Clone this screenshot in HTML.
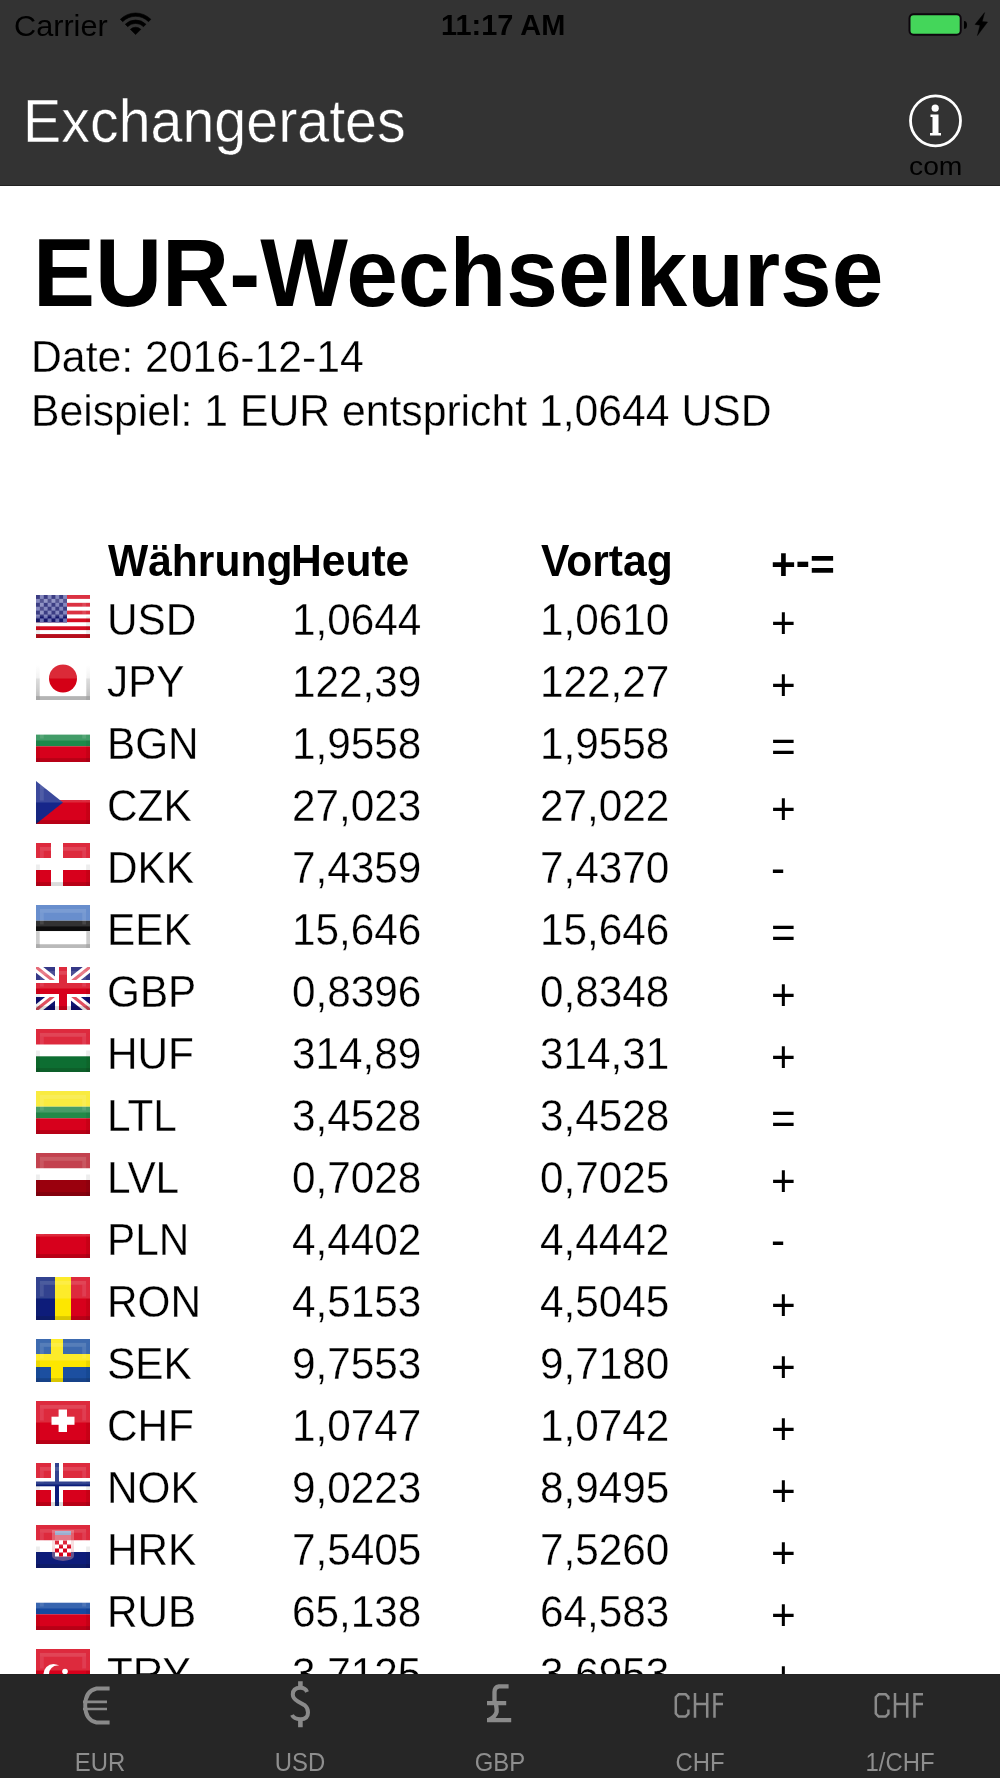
<!DOCTYPE html>
<html><head><meta charset="utf-8">
<style>
*{margin:0;padding:0;box-sizing:border-box}
html,body{width:1000px;height:1778px;overflow:hidden;background:#fff;font-family:"Liberation Sans",sans-serif}
#page{position:relative;width:1000px;height:1778px;overflow:hidden;background:#fff}
.abs{position:absolute;white-space:nowrap;line-height:1}
#nav{position:absolute;left:0;top:0;width:1000px;height:186px;background:#333333;border-bottom:1px solid #222222}
#sb-carrier{position:absolute;left:14px;top:10.7px;font-size:30px;color:#000;line-height:1;transform:scaleX(1.022);transform-origin:0 0}
#sb-time{position:absolute;left:441.3px;top:10px;font-size:30px;font-weight:bold;color:#000;line-height:1;transform:scaleX(0.964);transform-origin:0 0}
#navtitle{position:absolute;left:23.1px;top:90.6px;font-size:61px;color:#fff;-webkit-text-stroke:0.5px #333;line-height:1;transform:scaleX(0.9405);transform-origin:0 0}
#com{position:absolute;left:908.7px;top:153px;font-size:26.5px;color:#000;line-height:1;transform:scaleX(1.067);transform-origin:0 0}
#title{position:absolute;left:33px;top:224px;font-size:97px;font-weight:bold;color:#000;line-height:1;transform:scaleX(0.958);transform-origin:0 0}
#date{position:absolute;left:31.2px;top:334px;font-size:45px;color:#000;-webkit-text-stroke:0.3px #fff;line-height:1;transform:scaleX(0.95);transform-origin:0 0}
#beisp{position:absolute;left:30.8px;top:388px;font-size:45px;color:#000;-webkit-text-stroke:0.3px #fff;line-height:1;transform:scaleX(0.949);transform-origin:0 0}
.h{position:absolute;top:538px;font-size:45px;font-weight:bold;color:#000;line-height:1;white-space:nowrap;transform:scaleX(0.946);transform-origin:0 0}
.r{position:absolute;font-size:45px;color:#000;line-height:1;white-space:nowrap;-webkit-text-stroke:0.3px #fff;transform:scaleX(0.94);transform-origin:0 0}
.s{-webkit-text-stroke:0}
.flag{position:absolute}
#content{position:absolute;left:0;top:0;width:1000px;height:1674px;overflow:hidden}
#tab{position:absolute;left:0;top:1674px;width:1000px;height:104px;background:#262626;border-top:1px solid #232323}
.tl{position:absolute;top:1750px;font-size:25px;color:#8e8e8e;line-height:1;white-space:nowrap;text-align:center;width:200px;transform:scaleX(0.955);transform-origin:50% 0}
.ti{position:absolute}
</style></head>
<body><div id="page">
<div id="content">
<div id="title">EUR-Wechselkurse</div>
<div id="date">Date: 2016-12-14</div>
<div id="beisp">Beispiel: 1 EUR entspricht 1,0644 USD</div>
<div class="h" id="h1" style="left:107.6px">Währung</div>
<div class="h" id="h2" style="left:291.2px">Heute</div>
<div class="h" id="h3" style="left:540.5px">Vortag</div>
<div class="h" id="h4" style="left:771.1px"><span style="position:relative;top:3.8px">+</span>-<span style="position:relative;top:4px">=</span></div>
<svg width="0" height="0" style="position:absolute"><defs>
<linearGradient id="gl" x1="0" y1="0" x2="0" y2="1">
<stop offset="0" stop-color="#fff" stop-opacity="0.22"/>
<stop offset="0.5" stop-color="#fff" stop-opacity="0.04"/>
<stop offset="0.51" stop-color="#fff" stop-opacity="0"/>
<stop offset="0.9" stop-color="#000" stop-opacity="0"/>
<stop offset="1" stop-color="#000" stop-opacity="0.1"/>
</linearGradient>
<filter id="fb" x="-10%" y="-10%" width="120%" height="120%"><feGaussianBlur stdDeviation="0.75"/></filter>
<linearGradient id="gv" x1="0" y1="0" x2="0" y2="1">
<stop offset="0" stop-color="#ddd" stop-opacity="0"/>
<stop offset="1" stop-color="#c8c8c8" stop-opacity="1"/>
</linearGradient>
</defs></svg>
<svg class="flag" style="left:35.5px;top:595px" width="54" height="43" viewBox="0 0 54 43"><g filter="url(#fb)"><rect x="0" y="0.0" width="54" height="4.109090909090909" fill="#d50a20"/><rect x="0" y="3.909090909090909" width="54" height="4.109090909090909" fill="#ffffff"/><rect x="0" y="7.818181818181818" width="54" height="4.109090909090909" fill="#d50a20"/><rect x="0" y="11.727272727272727" width="54" height="4.109090909090909" fill="#ffffff"/><rect x="0" y="15.636363636363637" width="54" height="4.109090909090909" fill="#d50a20"/><rect x="0" y="19.545454545454547" width="54" height="4.109090909090909" fill="#ffffff"/><rect x="0" y="23.454545454545453" width="54" height="4.109090909090909" fill="#d50a20"/><rect x="0" y="27.363636363636363" width="54" height="4.109090909090909" fill="#ffffff"/><rect x="0" y="31.272727272727273" width="54" height="4.109090909090909" fill="#d50a20"/><rect x="0" y="35.18181818181818" width="54" height="4.109090909090909" fill="#ffffff"/><rect x="0" y="39.09090909090909" width="54" height="4.109090909090909" fill="#d50a20"/><rect x="0" y="0" width="31" height="27.363636363636363" fill="#16186c"/><rect x="3.875" y="0.0" width="3.875" height="3.909090909090909" fill="#6e72b2"/><rect x="11.625" y="0.0" width="3.875" height="3.909090909090909" fill="#6e72b2"/><rect x="19.375" y="0.0" width="3.875" height="3.909090909090909" fill="#6e72b2"/><rect x="27.125" y="0.0" width="3.875" height="3.909090909090909" fill="#6e72b2"/><rect x="0.0" y="3.909090909090909" width="3.875" height="3.909090909090909" fill="#6e72b2"/><rect x="7.75" y="3.909090909090909" width="3.875" height="3.909090909090909" fill="#6e72b2"/><rect x="15.5" y="3.909090909090909" width="3.875" height="3.909090909090909" fill="#6e72b2"/><rect x="23.25" y="3.909090909090909" width="3.875" height="3.909090909090909" fill="#6e72b2"/><rect x="3.875" y="7.818181818181818" width="3.875" height="3.909090909090909" fill="#6e72b2"/><rect x="11.625" y="7.818181818181818" width="3.875" height="3.909090909090909" fill="#6e72b2"/><rect x="19.375" y="7.818181818181818" width="3.875" height="3.909090909090909" fill="#6e72b2"/><rect x="27.125" y="7.818181818181818" width="3.875" height="3.909090909090909" fill="#6e72b2"/><rect x="0.0" y="11.727272727272727" width="3.875" height="3.909090909090909" fill="#6e72b2"/><rect x="7.75" y="11.727272727272727" width="3.875" height="3.909090909090909" fill="#6e72b2"/><rect x="15.5" y="11.727272727272727" width="3.875" height="3.909090909090909" fill="#6e72b2"/><rect x="23.25" y="11.727272727272727" width="3.875" height="3.909090909090909" fill="#6e72b2"/><rect x="3.875" y="15.636363636363637" width="3.875" height="3.909090909090909" fill="#6e72b2"/><rect x="11.625" y="15.636363636363637" width="3.875" height="3.909090909090909" fill="#6e72b2"/><rect x="19.375" y="15.636363636363637" width="3.875" height="3.909090909090909" fill="#6e72b2"/><rect x="27.125" y="15.636363636363637" width="3.875" height="3.909090909090909" fill="#6e72b2"/><rect x="0.0" y="19.545454545454547" width="3.875" height="3.909090909090909" fill="#6e72b2"/><rect x="7.75" y="19.545454545454547" width="3.875" height="3.909090909090909" fill="#6e72b2"/><rect x="15.5" y="19.545454545454547" width="3.875" height="3.909090909090909" fill="#6e72b2"/><rect x="23.25" y="19.545454545454547" width="3.875" height="3.909090909090909" fill="#6e72b2"/><rect x="3.875" y="23.454545454545453" width="3.875" height="3.909090909090909" fill="#6e72b2"/><rect x="11.625" y="23.454545454545453" width="3.875" height="3.909090909090909" fill="#6e72b2"/><rect x="19.375" y="23.454545454545453" width="3.875" height="3.909090909090909" fill="#6e72b2"/><rect x="27.125" y="23.454545454545453" width="3.875" height="3.909090909090909" fill="#6e72b2"/><rect x="0" y="0" width="54" height="21.5" fill="#fff" fill-opacity="0.16"/><rect x="3.9" y="3.9" width="46.2" height="3.9" fill="#fff" fill-opacity="0.13"/><rect x="3.9" y="7.8" width="3.9" height="11.7" fill="#fff" fill-opacity="0.1"/><rect x="46.2" y="7.8" width="3.9" height="11.7" fill="#fff" fill-opacity="0.1"/><rect x="0" y="21.5" width="3.9" height="21.5" fill="#000" fill-opacity="0.07"/><rect x="50.1" y="21.5" width="3.9" height="21.5" fill="#000" fill-opacity="0.07"/><rect x="0" y="39.1" width="54" height="3.9" fill="#000" fill-opacity="0.14"/></g></svg>
<div class="r" id="r0c1" style="left:106.5px;top:596.71px">USD</div>
<div class="r" id="r0c2" style="left:291.8px;top:596.71px">1,0644</div>
<div class="r" id="r0c3" style="left:540.2px;top:596.71px">1,0610</div>
<div class="r s" id="r0c4" style="left:771.0px;top:599.71px">+</div>
<svg class="flag" style="left:35.5px;top:657px" width="54" height="43" viewBox="0 0 54 43"><g filter="url(#fb)"><rect x="0" y="0" width="54" height="43" fill="#ffffff"/><rect x="0" y="8" width="3.6" height="35" fill="url(#gv)"/><rect x="50.4" y="8" width="3.6" height="35" fill="url(#gv)"/><rect x="0" y="39.2" width="54" height="3.8" fill="#d2d2d2"/><circle cx="27" cy="21.5" r="14" fill="#d40014"/><rect x="0" y="0" width="54" height="21.5" fill="#fff" fill-opacity="0.16"/><rect x="3.9" y="3.9" width="46.2" height="3.9" fill="#fff" fill-opacity="0.13"/><rect x="3.9" y="7.8" width="3.9" height="11.7" fill="#fff" fill-opacity="0.1"/><rect x="46.2" y="7.8" width="3.9" height="11.7" fill="#fff" fill-opacity="0.1"/><rect x="0" y="21.5" width="3.9" height="21.5" fill="#000" fill-opacity="0.07"/><rect x="50.1" y="21.5" width="3.9" height="21.5" fill="#000" fill-opacity="0.07"/><rect x="0" y="39.1" width="54" height="3.9" fill="#000" fill-opacity="0.14"/></g></svg>
<div class="r" id="r1c1" style="left:106.5px;top:658.71px">JPY</div>
<div class="r" id="r1c2" style="left:291.8px;top:658.71px">122,39</div>
<div class="r" id="r1c3" style="left:540.2px;top:658.71px">122,27</div>
<div class="r s" id="r1c4" style="left:771.0px;top:661.71px">+</div>
<svg class="flag" style="left:35.5px;top:719px" width="54" height="43" viewBox="0 0 54 43"><g filter="url(#fb)"><rect x="0" y="15.6" width="54" height="11.7" fill="#1f8a4c"/><rect x="0" y="27.3" width="54" height="15.7" fill="#d7001a"/><rect x="0" y="0" width="54" height="21.5" fill="#fff" fill-opacity="0.16"/><rect x="3.9" y="3.9" width="46.2" height="3.9" fill="#fff" fill-opacity="0.13"/><rect x="3.9" y="7.8" width="3.9" height="11.7" fill="#fff" fill-opacity="0.1"/><rect x="46.2" y="7.8" width="3.9" height="11.7" fill="#fff" fill-opacity="0.1"/><rect x="0" y="21.5" width="3.9" height="21.5" fill="#000" fill-opacity="0.07"/><rect x="50.1" y="21.5" width="3.9" height="21.5" fill="#000" fill-opacity="0.07"/><rect x="0" y="39.1" width="54" height="3.9" fill="#000" fill-opacity="0.14"/></g></svg>
<div class="r" id="r2c1" style="left:106.5px;top:720.71px">BGN</div>
<div class="r" id="r2c2" style="left:291.8px;top:720.71px">1,9558</div>
<div class="r" id="r2c3" style="left:540.2px;top:720.71px">1,9558</div>
<div class="r s" id="r2c4" style="left:771.0px;top:723.21px">=</div>
<svg class="flag" style="left:35.5px;top:781px" width="54" height="43" viewBox="0 0 54 43"><g filter="url(#fb)"><rect x="0" y="19" width="54" height="24" fill="#d7001a"/><polygon points="0,0 27,21.5 0,43" fill="#16288a"/><rect x="0" y="0" width="54" height="21.5" fill="#fff" fill-opacity="0.16"/><rect x="3.9" y="3.9" width="46.2" height="3.9" fill="#fff" fill-opacity="0.13"/><rect x="3.9" y="7.8" width="3.9" height="11.7" fill="#fff" fill-opacity="0.1"/><rect x="46.2" y="7.8" width="3.9" height="11.7" fill="#fff" fill-opacity="0.1"/><rect x="0" y="21.5" width="3.9" height="21.5" fill="#000" fill-opacity="0.07"/><rect x="50.1" y="21.5" width="3.9" height="21.5" fill="#000" fill-opacity="0.07"/><rect x="0" y="39.1" width="54" height="3.9" fill="#000" fill-opacity="0.14"/></g></svg>
<div class="r" id="r3c1" style="left:106.5px;top:782.71px">CZK</div>
<div class="r" id="r3c2" style="left:291.8px;top:782.71px">27,023</div>
<div class="r" id="r3c3" style="left:540.2px;top:782.71px">27,022</div>
<div class="r s" id="r3c4" style="left:771.0px;top:785.71px">+</div>
<svg class="flag" style="left:35.5px;top:843px" width="54" height="43" viewBox="0 0 54 43"><g filter="url(#fb)"><rect x="0" y="0" width="54" height="43" fill="#d7001a"/><rect x="15" y="0" width="12" height="43" fill="#ffffff"/><rect x="0" y="15" width="54" height="12" fill="#ffffff"/><rect x="0" y="0" width="54" height="21.5" fill="#fff" fill-opacity="0.16"/><rect x="3.9" y="3.9" width="46.2" height="3.9" fill="#fff" fill-opacity="0.13"/><rect x="3.9" y="7.8" width="3.9" height="11.7" fill="#fff" fill-opacity="0.1"/><rect x="46.2" y="7.8" width="3.9" height="11.7" fill="#fff" fill-opacity="0.1"/><rect x="0" y="21.5" width="3.9" height="21.5" fill="#000" fill-opacity="0.07"/><rect x="50.1" y="21.5" width="3.9" height="21.5" fill="#000" fill-opacity="0.07"/><rect x="0" y="39.1" width="54" height="3.9" fill="#000" fill-opacity="0.14"/></g></svg>
<div class="r" id="r4c1" style="left:106.5px;top:844.71px">DKK</div>
<div class="r" id="r4c2" style="left:291.8px;top:844.71px">7,4359</div>
<div class="r" id="r4c3" style="left:540.2px;top:844.71px">7,4370</div>
<div class="r s" id="r4c4" style="left:770.5px;top:844.71px">-</div>
<svg class="flag" style="left:35.5px;top:905px" width="54" height="43" viewBox="0 0 54 43"><g filter="url(#fb)"><rect x="0" y="0" width="54" height="15.7" fill="#4a79c4"/><rect x="0" y="15.7" width="54" height="10.5" fill="#0a0a0a"/><rect x="0" y="26.2" width="54" height="16.8" fill="#ffffff"/><rect x="0" y="26.2" width="3.6" height="16.8" fill="#dcdcdc"/><rect x="50.4" y="26.2" width="3.6" height="16.8" fill="#dcdcdc"/><rect x="0" y="39.4" width="54" height="3.6" fill="#d8d8d8"/><rect x="0" y="0" width="54" height="21.5" fill="#fff" fill-opacity="0.16"/><rect x="3.9" y="3.9" width="46.2" height="3.9" fill="#fff" fill-opacity="0.13"/><rect x="3.9" y="7.8" width="3.9" height="11.7" fill="#fff" fill-opacity="0.1"/><rect x="46.2" y="7.8" width="3.9" height="11.7" fill="#fff" fill-opacity="0.1"/><rect x="0" y="21.5" width="3.9" height="21.5" fill="#000" fill-opacity="0.07"/><rect x="50.1" y="21.5" width="3.9" height="21.5" fill="#000" fill-opacity="0.07"/><rect x="0" y="39.1" width="54" height="3.9" fill="#000" fill-opacity="0.14"/></g></svg>
<div class="r" id="r5c1" style="left:106.5px;top:906.71px">EEK</div>
<div class="r" id="r5c2" style="left:291.8px;top:906.71px">15,646</div>
<div class="r" id="r5c3" style="left:540.2px;top:906.71px">15,646</div>
<div class="r s" id="r5c4" style="left:771.0px;top:909.21px">=</div>
<svg class="flag" style="left:35.5px;top:967px" width="54" height="43" viewBox="0 0 54 43"><g filter="url(#fb)"><rect x="0" y="0" width="54" height="43" fill="#0e1370"/><path d="M0,0 L54,43 M54,0 L0,43" stroke="#ffffff" stroke-width="9"/><path d="M0,0 L54,43 M54,0 L0,43" stroke="#e05060" stroke-width="3"/><rect x="0" y="13" width="54" height="17" fill="#ffffff"/><rect x="19" y="0" width="16" height="43" fill="#ffffff"/><rect x="0" y="16" width="54" height="11" fill="#d7001a"/><rect x="23" y="0" width="8" height="43" fill="#d7001a"/><rect x="0" y="0" width="54" height="21.5" fill="#fff" fill-opacity="0.16"/><rect x="3.9" y="3.9" width="46.2" height="3.9" fill="#fff" fill-opacity="0.13"/><rect x="3.9" y="7.8" width="3.9" height="11.7" fill="#fff" fill-opacity="0.1"/><rect x="46.2" y="7.8" width="3.9" height="11.7" fill="#fff" fill-opacity="0.1"/><rect x="0" y="21.5" width="3.9" height="21.5" fill="#000" fill-opacity="0.07"/><rect x="50.1" y="21.5" width="3.9" height="21.5" fill="#000" fill-opacity="0.07"/><rect x="0" y="39.1" width="54" height="3.9" fill="#000" fill-opacity="0.14"/></g></svg>
<div class="r" id="r6c1" style="left:106.5px;top:968.71px">GBP</div>
<div class="r" id="r6c2" style="left:291.8px;top:968.71px">0,8396</div>
<div class="r" id="r6c3" style="left:540.2px;top:968.71px">0,8348</div>
<div class="r s" id="r6c4" style="left:771.0px;top:971.71px">+</div>
<svg class="flag" style="left:35.5px;top:1029px" width="54" height="43" viewBox="0 0 54 43"><g filter="url(#fb)"><rect x="0" y="0" width="54" height="15.7" fill="#d7001a"/><rect x="0" y="15.7" width="54" height="11.6" fill="#ffffff"/><rect x="0" y="27.3" width="54" height="15.7" fill="#0f6e30"/><rect x="0" y="0" width="54" height="21.5" fill="#fff" fill-opacity="0.16"/><rect x="3.9" y="3.9" width="46.2" height="3.9" fill="#fff" fill-opacity="0.13"/><rect x="3.9" y="7.8" width="3.9" height="11.7" fill="#fff" fill-opacity="0.1"/><rect x="46.2" y="7.8" width="3.9" height="11.7" fill="#fff" fill-opacity="0.1"/><rect x="0" y="21.5" width="3.9" height="21.5" fill="#000" fill-opacity="0.07"/><rect x="50.1" y="21.5" width="3.9" height="21.5" fill="#000" fill-opacity="0.07"/><rect x="0" y="39.1" width="54" height="3.9" fill="#000" fill-opacity="0.14"/></g></svg>
<div class="r" id="r7c1" style="left:106.5px;top:1030.71px">HUF</div>
<div class="r" id="r7c2" style="left:291.8px;top:1030.71px">314,89</div>
<div class="r" id="r7c3" style="left:540.2px;top:1030.71px">314,31</div>
<div class="r s" id="r7c4" style="left:771.0px;top:1033.71px">+</div>
<svg class="flag" style="left:35.5px;top:1091px" width="54" height="43" viewBox="0 0 54 43"><g filter="url(#fb)"><rect x="0" y="0" width="54" height="15.7" fill="#f8e71c"/><rect x="0" y="15.7" width="54" height="11.6" fill="#238a4a"/><rect x="0" y="27.3" width="54" height="15.7" fill="#d7001a"/><rect x="0" y="0" width="54" height="21.5" fill="#fff" fill-opacity="0.16"/><rect x="3.9" y="3.9" width="46.2" height="3.9" fill="#fff" fill-opacity="0.13"/><rect x="3.9" y="7.8" width="3.9" height="11.7" fill="#fff" fill-opacity="0.1"/><rect x="46.2" y="7.8" width="3.9" height="11.7" fill="#fff" fill-opacity="0.1"/><rect x="0" y="21.5" width="3.9" height="21.5" fill="#000" fill-opacity="0.07"/><rect x="50.1" y="21.5" width="3.9" height="21.5" fill="#000" fill-opacity="0.07"/><rect x="0" y="39.1" width="54" height="3.9" fill="#000" fill-opacity="0.14"/></g></svg>
<div class="r" id="r8c1" style="left:106.5px;top:1092.71px">LTL</div>
<div class="r" id="r8c2" style="left:291.8px;top:1092.71px">3,4528</div>
<div class="r" id="r8c3" style="left:540.2px;top:1092.71px">3,4528</div>
<div class="r s" id="r8c4" style="left:771.0px;top:1095.21px">=</div>
<svg class="flag" style="left:35.5px;top:1153px" width="54" height="43" viewBox="0 0 54 43"><g filter="url(#fb)"><rect x="0" y="0" width="54" height="15.5" fill="#b8202e"/><rect x="0" y="15.5" width="54" height="11.5" fill="#ffffff"/><rect x="0" y="27" width="54" height="16" fill="#9a0010"/><rect x="0" y="0" width="54" height="21.5" fill="#fff" fill-opacity="0.16"/><rect x="3.9" y="3.9" width="46.2" height="3.9" fill="#fff" fill-opacity="0.13"/><rect x="3.9" y="7.8" width="3.9" height="11.7" fill="#fff" fill-opacity="0.1"/><rect x="46.2" y="7.8" width="3.9" height="11.7" fill="#fff" fill-opacity="0.1"/><rect x="0" y="21.5" width="3.9" height="21.5" fill="#000" fill-opacity="0.07"/><rect x="50.1" y="21.5" width="3.9" height="21.5" fill="#000" fill-opacity="0.07"/><rect x="0" y="39.1" width="54" height="3.9" fill="#000" fill-opacity="0.14"/></g></svg>
<div class="r" id="r9c1" style="left:106.5px;top:1154.71px">LVL</div>
<div class="r" id="r9c2" style="left:291.8px;top:1154.71px">0,7028</div>
<div class="r" id="r9c3" style="left:540.2px;top:1154.71px">0,7025</div>
<div class="r s" id="r9c4" style="left:771.0px;top:1157.71px">+</div>
<svg class="flag" style="left:35.5px;top:1215px" width="54" height="43" viewBox="0 0 54 43"><g filter="url(#fb)"><rect x="0" y="19" width="54" height="24" fill="#d7001a"/><rect x="0" y="0" width="54" height="21.5" fill="#fff" fill-opacity="0.16"/><rect x="3.9" y="3.9" width="46.2" height="3.9" fill="#fff" fill-opacity="0.13"/><rect x="3.9" y="7.8" width="3.9" height="11.7" fill="#fff" fill-opacity="0.1"/><rect x="46.2" y="7.8" width="3.9" height="11.7" fill="#fff" fill-opacity="0.1"/><rect x="0" y="21.5" width="3.9" height="21.5" fill="#000" fill-opacity="0.07"/><rect x="50.1" y="21.5" width="3.9" height="21.5" fill="#000" fill-opacity="0.07"/><rect x="0" y="39.1" width="54" height="3.9" fill="#000" fill-opacity="0.14"/></g></svg>
<div class="r" id="r10c1" style="left:106.5px;top:1216.71px">PLN</div>
<div class="r" id="r10c2" style="left:291.8px;top:1216.71px">4,4402</div>
<div class="r" id="r10c3" style="left:540.2px;top:1216.71px">4,4442</div>
<div class="r s" id="r10c4" style="left:770.5px;top:1216.71px">-</div>
<svg class="flag" style="left:35.5px;top:1277px" width="54" height="43" viewBox="0 0 54 43"><g filter="url(#fb)"><rect x="0" y="0" width="19" height="43" fill="#0a1f7a"/><rect x="19" y="0" width="16" height="43" fill="#fde700"/><rect x="35" y="0" width="19" height="43" fill="#d7001a"/><rect x="0" y="0" width="54" height="21.5" fill="#fff" fill-opacity="0.16"/><rect x="3.9" y="3.9" width="46.2" height="3.9" fill="#fff" fill-opacity="0.13"/><rect x="3.9" y="7.8" width="3.9" height="11.7" fill="#fff" fill-opacity="0.1"/><rect x="46.2" y="7.8" width="3.9" height="11.7" fill="#fff" fill-opacity="0.1"/><rect x="0" y="21.5" width="3.9" height="21.5" fill="#000" fill-opacity="0.07"/><rect x="50.1" y="21.5" width="3.9" height="21.5" fill="#000" fill-opacity="0.07"/><rect x="0" y="39.1" width="54" height="3.9" fill="#000" fill-opacity="0.14"/></g></svg>
<div class="r" id="r11c1" style="left:106.5px;top:1278.71px">RON</div>
<div class="r" id="r11c2" style="left:291.8px;top:1278.71px">4,5153</div>
<div class="r" id="r11c3" style="left:540.2px;top:1278.71px">4,5045</div>
<div class="r s" id="r11c4" style="left:771.0px;top:1281.71px">+</div>
<svg class="flag" style="left:35.5px;top:1339px" width="54" height="43" viewBox="0 0 54 43"><g filter="url(#fb)"><rect x="0" y="0" width="54" height="43" fill="#1a4fa0"/><rect x="15" y="0" width="12" height="43" fill="#fde700"/><rect x="0" y="15" width="54" height="13" fill="#fde700"/><rect x="0" y="0" width="54" height="21.5" fill="#fff" fill-opacity="0.16"/><rect x="3.9" y="3.9" width="46.2" height="3.9" fill="#fff" fill-opacity="0.13"/><rect x="3.9" y="7.8" width="3.9" height="11.7" fill="#fff" fill-opacity="0.1"/><rect x="46.2" y="7.8" width="3.9" height="11.7" fill="#fff" fill-opacity="0.1"/><rect x="0" y="21.5" width="3.9" height="21.5" fill="#000" fill-opacity="0.07"/><rect x="50.1" y="21.5" width="3.9" height="21.5" fill="#000" fill-opacity="0.07"/><rect x="0" y="39.1" width="54" height="3.9" fill="#000" fill-opacity="0.14"/></g></svg>
<div class="r" id="r12c1" style="left:106.5px;top:1340.71px">SEK</div>
<div class="r" id="r12c2" style="left:291.8px;top:1340.71px">9,7553</div>
<div class="r" id="r12c3" style="left:540.2px;top:1340.71px">9,7180</div>
<div class="r s" id="r12c4" style="left:771.0px;top:1343.71px">+</div>
<svg class="flag" style="left:35.5px;top:1401px" width="54" height="43" viewBox="0 0 54 43"><g filter="url(#fb)"><rect x="0" y="0" width="54" height="43" fill="#d7001a"/><rect x="22.6" y="8.5" width="8.4" height="22.5" fill="#ffffff"/><rect x="15.5" y="15.7" width="23" height="8.1" fill="#ffffff"/><rect x="0" y="0" width="54" height="21.5" fill="#fff" fill-opacity="0.16"/><rect x="3.9" y="3.9" width="46.2" height="3.9" fill="#fff" fill-opacity="0.13"/><rect x="3.9" y="7.8" width="3.9" height="11.7" fill="#fff" fill-opacity="0.1"/><rect x="46.2" y="7.8" width="3.9" height="11.7" fill="#fff" fill-opacity="0.1"/><rect x="0" y="21.5" width="3.9" height="21.5" fill="#000" fill-opacity="0.07"/><rect x="50.1" y="21.5" width="3.9" height="21.5" fill="#000" fill-opacity="0.07"/><rect x="0" y="39.1" width="54" height="3.9" fill="#000" fill-opacity="0.14"/></g></svg>
<div class="r" id="r13c1" style="left:106.5px;top:1402.71px">CHF</div>
<div class="r" id="r13c2" style="left:291.8px;top:1402.71px">1,0747</div>
<div class="r" id="r13c3" style="left:540.2px;top:1402.71px">1,0742</div>
<div class="r s" id="r13c4" style="left:771.0px;top:1405.71px">+</div>
<svg class="flag" style="left:35.5px;top:1463px" width="54" height="43" viewBox="0 0 54 43"><g filter="url(#fb)"><rect x="0" y="0" width="54" height="43" fill="#d7001a"/><rect x="15" y="0" width="12" height="43" fill="#ffffff"/><rect x="0" y="15" width="54" height="12" fill="#ffffff"/><rect x="19" y="0" width="4" height="43" fill="#0a1f7a"/><rect x="0" y="18.5" width="54" height="4.8" fill="#0a1f7a"/><rect x="0" y="0" width="54" height="21.5" fill="#fff" fill-opacity="0.16"/><rect x="3.9" y="3.9" width="46.2" height="3.9" fill="#fff" fill-opacity="0.13"/><rect x="3.9" y="7.8" width="3.9" height="11.7" fill="#fff" fill-opacity="0.1"/><rect x="46.2" y="7.8" width="3.9" height="11.7" fill="#fff" fill-opacity="0.1"/><rect x="0" y="21.5" width="3.9" height="21.5" fill="#000" fill-opacity="0.07"/><rect x="50.1" y="21.5" width="3.9" height="21.5" fill="#000" fill-opacity="0.07"/><rect x="0" y="39.1" width="54" height="3.9" fill="#000" fill-opacity="0.14"/></g></svg>
<div class="r" id="r14c1" style="left:106.5px;top:1464.71px">NOK</div>
<div class="r" id="r14c2" style="left:291.8px;top:1464.71px">9,0223</div>
<div class="r" id="r14c3" style="left:540.2px;top:1464.71px">8,9495</div>
<div class="r s" id="r14c4" style="left:771.0px;top:1467.71px">+</div>
<svg class="flag" style="left:35.5px;top:1525px" width="54" height="43" viewBox="0 0 54 43"><g filter="url(#fb)"><rect x="0" y="0" width="54" height="15.5" fill="#d7001a"/><rect x="0" y="15.5" width="54" height="11.5" fill="#ffffff"/><rect x="0" y="27" width="54" height="16" fill="#0a1f7a"/><path d="M16,5 H38 V31 Q38,35 27,36 Q16,35 16,31 Z" fill="#e8a0a8" opacity="0.4"/><rect x="19" y="6" width="16" height="4" fill="#8aa0c8"/><rect x="19" y="10" width="16" height="5" fill="#e06070"/><rect x="19" y="15.5" width="16" height="16" fill="#ffffff"/><rect x="19" y="15.5" width="4" height="4" fill="#d7001a"/><rect x="27" y="15.5" width="4" height="4" fill="#d7001a"/><rect x="23" y="19.5" width="4" height="4" fill="#d7001a"/><rect x="31" y="19.5" width="4" height="4" fill="#d7001a"/><rect x="19" y="23.5" width="4" height="4" fill="#d7001a"/><rect x="27" y="23.5" width="4" height="4" fill="#d7001a"/><rect x="23" y="27.5" width="4" height="4" fill="#d7001a"/><rect x="31" y="27.5" width="4" height="4" fill="#d7001a"/><rect x="0" y="0" width="54" height="21.5" fill="#fff" fill-opacity="0.16"/><rect x="3.9" y="3.9" width="46.2" height="3.9" fill="#fff" fill-opacity="0.13"/><rect x="3.9" y="7.8" width="3.9" height="11.7" fill="#fff" fill-opacity="0.1"/><rect x="46.2" y="7.8" width="3.9" height="11.7" fill="#fff" fill-opacity="0.1"/><rect x="0" y="21.5" width="3.9" height="21.5" fill="#000" fill-opacity="0.07"/><rect x="50.1" y="21.5" width="3.9" height="21.5" fill="#000" fill-opacity="0.07"/><rect x="0" y="39.1" width="54" height="3.9" fill="#000" fill-opacity="0.14"/></g></svg>
<div class="r" id="r15c1" style="left:106.5px;top:1526.71px">HRK</div>
<div class="r" id="r15c2" style="left:291.8px;top:1526.71px">7,5405</div>
<div class="r" id="r15c3" style="left:540.2px;top:1526.71px">7,5260</div>
<div class="r s" id="r15c4" style="left:771.0px;top:1529.71px">+</div>
<svg class="flag" style="left:35.5px;top:1587px" width="54" height="43" viewBox="0 0 54 43"><g filter="url(#fb)"><rect x="0" y="15.7" width="54" height="11.6" fill="#1448a0"/><rect x="0" y="27.3" width="54" height="15.7" fill="#d7001a"/><rect x="0" y="0" width="54" height="21.5" fill="#fff" fill-opacity="0.16"/><rect x="3.9" y="3.9" width="46.2" height="3.9" fill="#fff" fill-opacity="0.13"/><rect x="3.9" y="7.8" width="3.9" height="11.7" fill="#fff" fill-opacity="0.1"/><rect x="46.2" y="7.8" width="3.9" height="11.7" fill="#fff" fill-opacity="0.1"/><rect x="0" y="21.5" width="3.9" height="21.5" fill="#000" fill-opacity="0.07"/><rect x="50.1" y="21.5" width="3.9" height="21.5" fill="#000" fill-opacity="0.07"/><rect x="0" y="39.1" width="54" height="3.9" fill="#000" fill-opacity="0.14"/></g></svg>
<div class="r" id="r16c1" style="left:106.5px;top:1588.71px">RUB</div>
<div class="r" id="r16c2" style="left:291.8px;top:1588.71px">65,138</div>
<div class="r" id="r16c3" style="left:540.2px;top:1588.71px">64,583</div>
<div class="r s" id="r16c4" style="left:771.0px;top:1591.71px">+</div>
<svg class="flag" style="left:35.5px;top:1649px" width="54" height="43" viewBox="0 0 54 43"><g filter="url(#fb)"><rect x="0" y="0" width="54" height="43" fill="#d7001a"/><circle cx="17.5" cy="25" r="10" fill="#ffffff"/><circle cx="21.5" cy="25" r="8.5" fill="#d7001a"/><circle cx="29" cy="22.5" r="2.8" fill="#ffffff"/><rect x="0" y="0" width="54" height="21.5" fill="#fff" fill-opacity="0.16"/><rect x="3.9" y="3.9" width="46.2" height="3.9" fill="#fff" fill-opacity="0.13"/><rect x="3.9" y="7.8" width="3.9" height="11.7" fill="#fff" fill-opacity="0.1"/><rect x="46.2" y="7.8" width="3.9" height="11.7" fill="#fff" fill-opacity="0.1"/><rect x="0" y="21.5" width="3.9" height="21.5" fill="#000" fill-opacity="0.07"/><rect x="50.1" y="21.5" width="3.9" height="21.5" fill="#000" fill-opacity="0.07"/><rect x="0" y="39.1" width="54" height="3.9" fill="#000" fill-opacity="0.14"/></g></svg>
<div class="r" id="r17c1" style="left:106.5px;top:1650.71px">TRY</div>
<div class="r" id="r17c2" style="left:291.8px;top:1650.71px">3,7125</div>
<div class="r" id="r17c3" style="left:540.2px;top:1650.71px">3,6953</div>
<div class="r s" id="r17c4" style="left:771.0px;top:1653.71px">+</div>
</div>

<div id="nav">
<div id="sb-carrier">Carrier</div>
<svg style="position:absolute;left:115px;top:8px" width="40" height="32" viewBox="0 0 40 32"><path d="M5.33,11.33 A21.6,21.6 0 0 1 35.87,11.33 L33.54,13.66 A18.3,18.3 0 0 0 7.66,13.66 Z M10.28,16.28 A14.6,14.6 0 0 1 30.92,16.28 L28.52,18.68 A11.2,11.2 0 0 0 12.68,18.68 Z M20.60,26.60 L15.37,21.37 A7.4,7.4 0 0 1 25.83,21.37 Z" fill="#000" stroke="#000" stroke-width="0.6" stroke-linejoin="round"/></svg>
<div id="sb-time">11:17 AM</div>
<svg style="position:absolute;left:907px;top:12px" width="84" height="26" viewBox="0 0 84 26">
<rect x="2.5" y="2.2" width="51.2" height="20.5" rx="4" fill="#44d65a" stroke="#0d060d" stroke-width="2"/>
<path d="M57,9 A3,3.9 0 0 1 57,16.8 Z" fill="#000"/>
<path d="M77.6,0.6 L68,12.4 L73,13.2 L70.4,23.6 L80.6,10 L75.2,9.6 Z" fill="#000" stroke="#000" stroke-width="0.4" stroke-linejoin="round"/>
</svg>
<div id="navtitle">Exchangerates</div>
<svg style="position:absolute;left:906px;top:92px" width="60" height="60" viewBox="0 0 60 60">
<circle cx="29.5" cy="28.8" r="25" fill="none" stroke="#fff" stroke-width="2.8"/>
<circle cx="29.2" cy="16.2" r="3.6" fill="#fff"/>
<path d="M24.5,22.5 L32.5,22.5 L32.5,41 L35,41 L35,43.5 L24,43.5 L24,41 L26.5,41 L26.5,25 L24.5,25 Z" fill="#fff"/>
</svg>
<div id="com">com</div>
</div>

<div id="tab">
</div>
<svg style="position:absolute;left:0;top:0" width="1000" height="1778" viewBox="0 0 1000 1778" fill="none" stroke="#8a8a8a">
<g stroke-width="3.9" stroke-linecap="butt">
<path d="M109.6,1688.5 L96.5,1688.5 Q85.2,1691 85.2,1705.5 Q85.2,1720 96.5,1722.5 L109.6,1722.5"/>
</g>
<path d="M83,1701.9 H107 M83,1709 H107" stroke-width="2.6"/>
<path d="M307,1692 Q305.5,1687.8 300.5,1687.8 Q292.8,1687.8 292.8,1694.5 Q292.8,1698.5 298,1701.5 L305,1705.5 Q308,1708 308,1712.5 Q308,1719.2 300.5,1719.2 Q294,1719.2 292,1715" stroke-width="4"/>
<path d="M300.4,1681.2 V1688.5 M300.4,1718 V1727.2" stroke-width="4.6"/>
<path d="M508.6,1686.3 H499 Q494.5,1687 494.5,1692 V1701 Q496.6,1704 496.6,1709 V1712 Q495.5,1716.5 489,1720" stroke-width="4.3"/>
<path d="M487,1703.2 H506.2 M487,1720.1 H511.2" stroke-width="4.2"/>
<g stroke-width="2.5">
<path d="M688.4,1699.5 V1697 L685.7,1694.3 H678.6 L675.8,1697.2 V1713.6 L678.6,1716.5 H685.7 L688.4,1713.8 V1709.5"/>
<path d="M695,1693 V1717.7 M707.2,1693 V1717.7 M695,1704 H707.2"/>
<path d="M714.5,1717.7 V1694.3 H723 M714.5,1704 H723"/>
</g>
<g stroke-width="2.5" transform="translate(200,0)">
<path d="M688.4,1699.5 V1697 L685.7,1694.3 H678.6 L675.8,1697.2 V1713.6 L678.6,1716.5 H685.7 L688.4,1713.8 V1709.5"/>
<path d="M695,1693 V1717.7 M707.2,1693 V1717.7 M695,1704 H707.2"/>
<path d="M714.5,1717.7 V1694.3 H723 M714.5,1704 H723"/>
</g>
</svg>
<div class="tl" id="t1" style="left:0px">EUR</div>
<div class="tl" id="t2" style="left:200px">USD</div>
<div class="tl" id="t3" style="left:400px">GBP</div>
<div class="tl" id="t4" style="left:600px">CHF</div>
<div class="tl" id="t5" style="left:800px">1/CHF</div>
</div>
</body></html>
